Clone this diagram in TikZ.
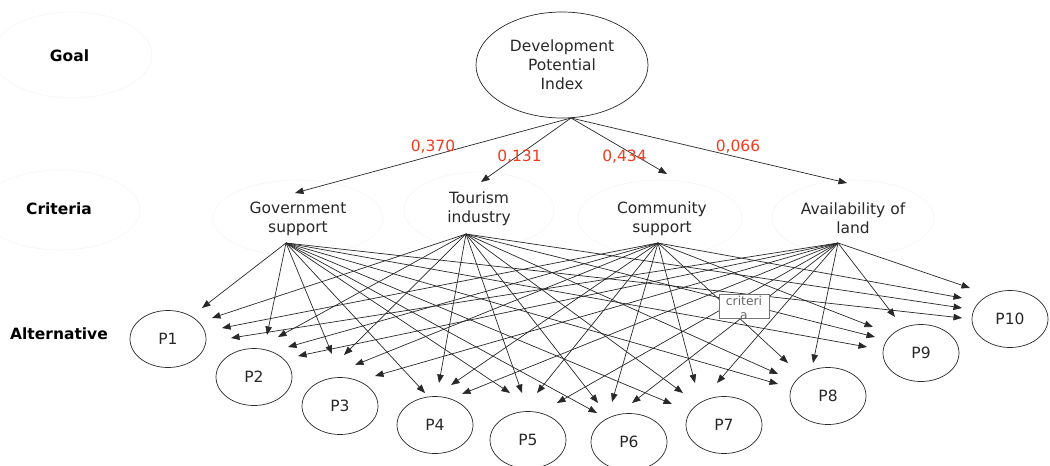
\documentclass[tikz,border=0pt]{standalone}
\usepackage{fontspec}
\setmainfont{DejaVu Sans}
\usetikzlibrary{shapes.geometric,arrows.meta}
\definecolor{wred}{RGB}{240,60,30}
\definecolor{ln}{RGB}{40,40,40}
\begin{document}
\begin{tikzpicture}[x=1pt,y=-1pt,
  every node/.style={font=\fontsize{15.5}{19}\selectfont, text=ln},
  alt/.style={ellipse, draw=ln, line width=0.7pt, minimum width=76pt, minimum height=57pt, inner sep=0pt},
  faint/.style={ellipse, draw=black!4, line width=0.6pt, inner sep=0pt},
  conn/.style={draw=ln, line width=0.7pt, -{Triangle[length=8.5pt,width=6.5pt]}},
  wt/.style={text=wred, inner sep=0pt},
  lvl/.style={font=\bfseries\fontsize{15.5}{19}\selectfont, text=black, inner sep=0pt},
  crit/.style={align=center, inner sep=0pt}]
\useasboundingbox (0,0) rectangle (1050,466);

% faint background ellipses
\node[faint, minimum width=160pt, minimum height=86pt] (fgoal) at (72,55) {};
\node[faint, minimum width=160pt, minimum height=80pt] (fcrit) at (60,210) {};
\node[faint, minimum width=170pt, minimum height=76pt] (fgov) at (298,218) {};
\node[faint, minimum width=150pt, minimum height=76pt] (ftour) at (479,210) {};
\node[faint, minimum width=164pt, minimum height=76pt] (fcomm) at (660,218) {};
\node[faint, minimum width=162pt, minimum height=76pt] (favail) at (853,218) {};

% level labels
\node[lvl] (lgoal) at (69.5,56) {Goal};
\node[lvl] (lcrit) at (59,209) {Criteria};
\node[lvl] (lalt) at (59,334) {Alternative};

% goal
\node[ellipse, draw=ln, line width=0.7pt, minimum width=172pt, minimum height=106pt,
      align=center, inner sep=0pt] (goal) at (562,65) {Development\\Potential\\Index};
\coordinate (goal-o) at (571,118);

% criteria
\node[crit] (gov) at (298,218.5) {Government\\support};
\node[crit] (tour) at (479,208.5) {Tourism\\industry};
\node[crit] (comm) at (662,218.5) {Community\\support};
\node[crit] (avail) at (853,218.5) {Availability of\\land};

\coordinate (gov-i) at (295,193);
\coordinate (tour-i) at (481,182);
\coordinate (comm-i) at (667,174);
\coordinate (avail-i) at (847,183);

\coordinate (gov-o) at (286,243);
\coordinate (tour-o) at (466,234);
\coordinate (comm-o) at (658,243);
\coordinate (avail-o) at (838,243);

\draw[conn] (goal-o) -- (gov-i);
\draw[conn] (goal-o) -- (tour-i);
\draw[conn] (goal-o) -- (comm-i);
\draw[conn] (goal-o) -- (avail-i);

\node[wt] (w1) at (433,147) {0,370};
\node[wt] (w2) at (519.5,157) {0,131};
\node[wt] (w3) at (624.5,157) {0,434};
\node[wt] (w4) at (738,147) {0,066};

% alternatives
\foreach \n/\x/\y in {1/168/339, 2/254/377, 3/340/406, 4/435/425, 5/528/440,
                      6/629/442, 7/724/425, 8/828/396, 9/921/353, 10/1010/319}
  \node[alt] (P\n) at (\x,\y) {P\n};

% arrow tips near each alternative (gov, tourism, community, availability)
\foreach \n/\a/\b/\c/\d in {
   1/{202,308}/{212,318}/{222,328}/{231,338},
   2/{267,335}/{278,337}/{288,347}/{298,356},
   3/{332,354}/{344,355}/{355,365}/{375,376},
   4/{425,393}/{439,383}/{451,385}/{462,394},
   5/{510,393}/{522,393}/{537,393}/{557,403},
   6/{597,413}/{598,403}/{612,402}/{632,403},
   7/{672,404}/{683,393}/{695,383}/{717,383},
   8/{778,384}/{778,374}/{788,363}/{813,363},
   9/{867,347}/{875,337}/{873,327}/{895,317},
   10/{962,318}/{962,308}/{962,298}/{970,288}}
{
  \coordinate (P\n-1) at (\a);
  \coordinate (P\n-2) at (\b);
  \coordinate (P\n-3) at (\c);
  \coordinate (P\n-4) at (\d);
}
\foreach \n in {1,...,10}{
  \draw[conn] (gov-o) -- (P\n-1);
  \draw[conn] (tour-o) -- (P\n-2);
  \draw[conn] (comm-o) -- (P\n-3);
  \draw[conn] (avail-o) -- (P\n-4);
}

% small "criteria" box
\node[draw=black!55, fill=white, line width=0.6pt, minimum width=50pt, minimum height=24pt,
      inner sep=0pt] (cbox) at (744,306) {};
\node[font=\fontsize{12.3}{13.5}\selectfont, text=black!60, align=center, anchor=north,
      inner sep=0pt] (ctext) at (744,296) {criteri\\a};
\end{tikzpicture}
\end{document}
